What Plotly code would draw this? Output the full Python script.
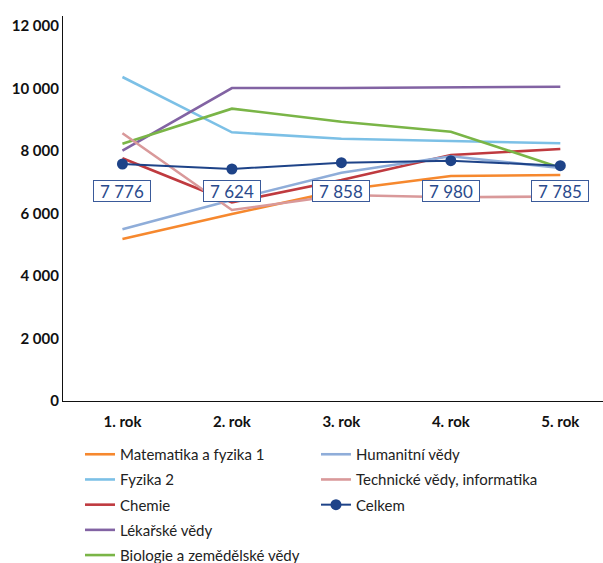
import plotly.graph_objects as go

categories = ["1. rok", "2. rok", "3. rok", "4. rok", "5. rok"]

matematika = [5184, 5984, 6752, 7200, 7232]
fyzika = [10368, 8598, 8394, 8320, 8246]
chemie = [7766, 6358, 7072, 7872, 8064]
lekarske = [8010, 10016, 10016, 10032, 10058]
biologie = [8234, 9354, 8938, 8618, 7466]
humanitni = [5494, 6432, 7306, 7830, 7456]
technicke = [8566, 6112, 6592, 6518, 6544]
celkem = [7584, 7424, 7626, 7690, 7530]
celkem_labels = ["7 776", "7 624", "7 858", "7 980", "7 785"]

ytick_vals = [0, 2000, 4000, 6000, 8000, 10000, 12000]
ytick_text = ["0", "2 000", "4 000", "6 000", "8 000", "10 000", "12 000"]

FONT = "Lato"

series = [
    ("Matematika a fyzika 1", matematika, "#f6882e", "legend"),
    ("Fyzika 2", fyzika, "#7cc0e6", "legend"),
    ("Chemie", chemie, "#bf3a3f", "legend"),
    ("Lékařské vědy", lekarske, "#8263a3", "legend"),
    ("Biologie a zemědělské vědy", biologie, "#7ab547", "legend"),
    ("Humanitní vědy", humanitni, "#8fadd9", "legend2"),
    ("Technické vědy, informatika", technicke, "#d9999a", "legend2"),
]

fig = go.Figure()
xi = list(range(len(categories)))
for name, vals, color, leg in series:
    fig.add_trace(go.Scatter(
        x=xi, y=vals, name=name, mode="lines",
        line=dict(color=color, width=2.6),
        legend=leg, legendgroup=name,
    ))

fig.add_trace(go.Scatter(
    x=xi, y=celkem, name="Celkem", mode="lines+markers",
    line=dict(color="#1e4388", width=2),
    marker=dict(color="#1e4388", size=11),
    legend="legend2", legendgroup="Celkem",
))

for i, lab in enumerate(celkem_labels):
    fig.add_annotation(
        x=xi[i], y=0.545, xref="x", yref="paper", text=lab,
        showarrow=False, width=56, height=20,
        bgcolor="white", bordercolor="#3a5a9a", borderwidth=1, borderpad=0,
        font=dict(family=FONT, size=17, color="#2a4a8c"),
    )

legend_common = dict(
    orientation="v", yanchor="top", xanchor="left",
    xref="container", yref="container",
    traceorder="grouped", tracegroupgap=2.7,
    font=dict(family=FONT, size=15, color="#222222"),
    bgcolor="rgba(0,0,0,0)", borderwidth=0,
)

fig.update_layout(
    width=603, height=563,
    margin=dict(l=63, r=0, t=16, b=162, autoexpand=False),
    plot_bgcolor="white", paper_bgcolor="white",
    font=dict(family=FONT, color="#111111"),
    legend=dict(x=0.1327, y=0.222, **legend_common),
    legend2=dict(x=0.524, y=0.222, **legend_common),
    xaxis=dict(
        range=[-0.543, 4.39], tickvals=xi, ticktext=categories,
        showline=True, linecolor="#111111", linewidth=1.3,
        showgrid=False, zeroline=False, ticks="", automargin=False,
        ticklabelstandoff=7,
        tickfont=dict(family=FONT, size=15, color="#111111", weight="bold"),
    ),
    yaxis=dict(
        range=[0, 12320], tickvals=ytick_vals, ticktext=ytick_text,
        showline=True, linecolor="#111111", linewidth=1.3,
        showgrid=False, zeroline=False, ticks="", automargin=False,
        tickfont=dict(family=FONT, size=15, color="#111111", weight="bold"),
    ),
    showlegend=True,
)

fig.write_html(
    "out.html",
    config={"displayModeBar": False},
    post_script="document.body.style.margin='0px';document.body.style.overflow='hidden';",
)
